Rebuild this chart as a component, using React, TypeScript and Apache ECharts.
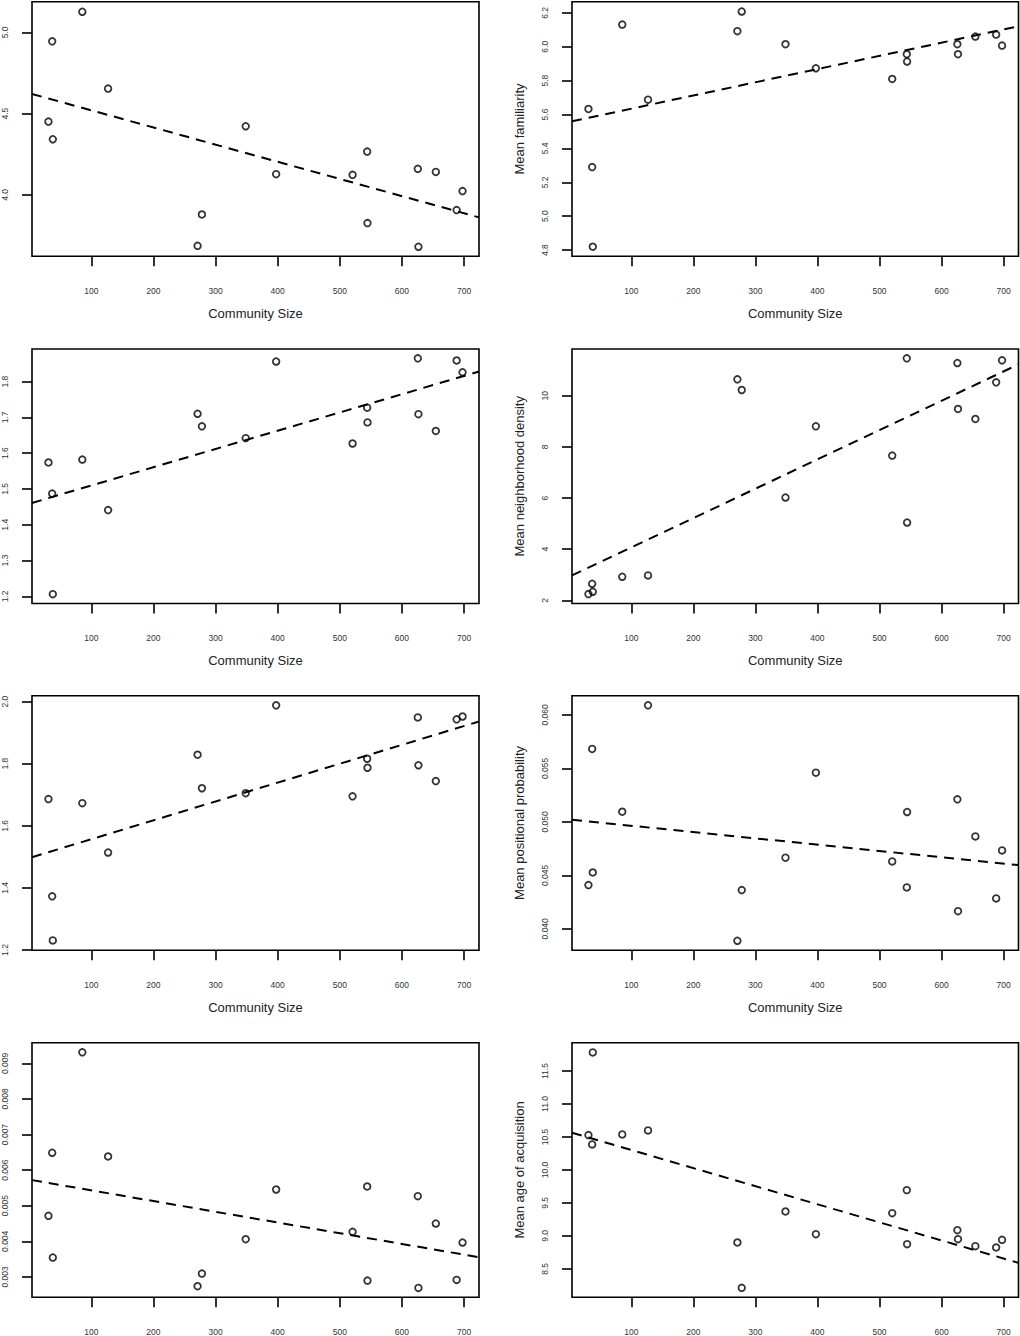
import React, { useEffect, useRef } from "react";
import * as echarts from "echarts";

// Shared x values (community size) for the 17 communities
const communitySize = [31, 37, 38, 85.5, 127, 271, 278, 348.5, 397.5, 520.5, 544, 544.5, 625.5, 626.5, 654.5, 688, 697.5];
const xTickLabels = ["100", "200", "300", "400", "500", "600", "700"];
const xRange = [4.5, 724];
const xTitle = "Community Size";

// Panel values (same order as communitySize)
const panel1Values = [4.451, 4.945, 4.342, 5.127, 4.654, 3.686, 3.879, 4.422, 4.127, 4.123, 4.266, 3.826, 4.160, 3.680, 4.141, 3.906, 4.023];
const panel2Values = [5.633, 5.290, 4.820, 6.131, 5.688, 6.092, 6.208, 6.015, 5.873, 5.810, 5.956, 5.913, 6.015, 5.956, 6.060, 6.072, 6.007];
const panel3Values = [1.574, 1.487, 1.206, 1.582, 1.441, 1.710, 1.675, 1.642, 1.856, 1.627, 1.727, 1.686, 1.865, 1.709, 1.662, 1.859, 1.826];
const panel4Values = [2.247, 2.650, 2.338, 2.924, 2.976, 10.637, 10.221, 6.020, 8.803, 7.659, 11.457, 5.044, 11.275, 9.480, 9.089, 10.520, 11.379];
const panel5Values = [1.686, 1.373, 1.231, 1.673, 1.514, 1.829, 1.721, 1.705, 1.988, 1.695, 1.816, 1.787, 1.949, 1.795, 1.744, 1.943, 1.952];
const panel6Values = [0.04409, 0.05682, 0.04527, 0.05095, 0.0609, 0.03888, 0.04362, 0.04665, 0.0546, 0.0463, 0.04387, 0.05092, 0.05211, 0.04165, 0.04864, 0.04284, 0.04733];
const panel7Values = [0.004716, 0.006487, 0.003544, 0.009309, 0.006384, 0.002738, 0.003094, 0.004059, 0.005456, 0.004266, 0.005541, 0.002897, 0.005269, 0.002691, 0.0045, 0.002916, 0.003966];
const panel8Values = [10.529, 10.387, 11.783, 10.539, 10.6, 8.9, 8.212, 9.37, 9.026, 9.345, 9.694, 8.874, 9.087, 8.95, 8.844, 8.824, 8.94];

// Fitted (dashed) line values at the x-range ends
const panel1Fit = [4.621, 3.861];
const panel2Fit = [5.56, 6.121];
const panel3Fit = [1.461, 1.828];
const panel4Fit = [2.976, 11.223];
const panel5Fit = [1.499, 1.936];
const panel6Fit = [0.0502, 0.04596];
const panel7Fit = [0.005719, 0.003553];
const panel8Fit = [10.564, 8.591];

// Y ranges
const panel1YRange = [3.622, 5.189];
const panel2YRange = [4.764, 6.266];
const panel3YRange = [1.18, 1.891];
const panel4YRange = [1.88, 11.823];
const panel5YRange = [1.1995, 2.019];
const panel6YRange = [0.038, 0.0618];
const panel7YRange = [0.00243, 0.00958];
const panel8YRange = [8.07, 11.93];

// Y tick labels
const panel1YTicks = ["4.0", "4.5", "5.0"];
const panel2YTicks = ["4.8", "5.0", "5.2", "5.4", "5.6", "5.8", "6.0", "6.2"];
const panel3YTicks = ["1.2", "1.3", "1.4", "1.5", "1.6", "1.7", "1.8"];
const panel4YTicks = ["2", "4", "6", "8", "10"];
const panel5YTicks = ["1.2", "1.4", "1.6", "1.8", "2.0"];
const panel6YTicks = ["0.040", "0.045", "0.050", "0.055", "0.060"];
const panel7YTicks = ["0.003", "0.004", "0.005", "0.006", "0.007", "0.008", "0.009"];
const panel8YTicks = ["8.5", "9.0", "9.5", "10.0", "10.5", "11.0", "11.5"];

// Y titles (left column titles are outside the picture)
const panelYTitles = ["", "Mean familiarity", "", "Mean neighborhood density", "", "Mean positional probability", "", "Mean age of acquisition"];

const FONT = "'Liberation Sans', Arial, Helvetica, sans-serif";

export default function App() {
  const ref = useRef<HTMLDivElement>(null);

  useEffect(() => {
    if (!ref.current) return;
    const chart = echarts.init(ref.current, undefined, { renderer: "svg", width: 1020, height: 1336 });

    const values = [panel1Values, panel2Values, panel3Values, panel4Values, panel5Values, panel6Values, panel7Values, panel8Values];
    const fits = [panel1Fit, panel2Fit, panel3Fit, panel4Fit, panel5Fit, panel6Fit, panel7Fit, panel8Fit];
    const yRanges = [panel1YRange, panel2YRange, panel3YRange, panel4YRange, panel5YRange, panel6YRange, panel7YRange, panel8YRange];
    const yTicks = [panel1YTicks, panel2YTicks, panel3YTicks, panel4YTicks, panel5YTicks, panel6YTicks, panel7YTicks, panel8YTicks];

    const rowTops = [1.7, 349, 695.7, 1042.7];
    const boxH = 254.5;
    const xTickVals = xTickLabels.map((s) => parseFloat(s));

    const grids: any[] = [];
    const xAxes: any[] = [];
    const yAxes: any[] = [];
    const series: any[] = [];

    for (let i = 0; i < 8; i++) {
      const col = i % 2;
      const row = Math.floor(i / 2);
      grids.push({
        left: col ? 572 : 32,
        top: rowTops[row],
        width: col ? 446.5 : 447,
        height: boxH,
        show: true,
        borderColor: "#000",
        borderWidth: 1.6,
        backgroundColor: "transparent",
        containLabel: false,
        outerBoundsMode: "none",
      });
      xAxes.push({
        type: "value",
        gridIndex: i,
        min: xRange[0],
        max: xRange[1],
        axisLine: { show: false },
        splitLine: { show: false },
        axisTick: {
          show: true,
          customValues: xTickVals,
          length: 10,
          inside: false,
          lineStyle: { color: "#000", width: 1.6 },
        },
        axisLabel: {
          customValues: xTickVals,
          fontSize: 8.5,
          color: "#333",
          margin: 30,
          fontFamily: FONT,
          formatter: (v: number) => String(Math.round(v)),
        },
        name: row < 3 ? xTitle : "",
        nameLocation: "middle",
        nameGap: 50.5,
        nameTextStyle: { fontSize: 13, color: "#222", fontFamily: FONT },
      });
      const tickStrs = yTicks[i];
      const dec = (tickStrs[0].split(".")[1] || "").length;
      const tickVals = tickStrs.map((s) => parseFloat(s));
      yAxes.push({
        type: "value",
        gridIndex: i,
        min: yRanges[i][0],
        max: yRanges[i][1],
        axisLine: { show: false },
        splitLine: { show: false },
        axisTick: {
          show: true,
          customValues: tickVals,
          length: 10,
          inside: false,
          lineStyle: { color: "#000", width: 1.6 },
        },
        axisLabel: {
          customValues: tickVals,
          rotate: 90,
          fontSize: 8.5,
          color: "#333",
          margin: 23,
          fontFamily: FONT,
          formatter: (v: number) => v.toFixed(dec),
        },
        name: panelYTitles[i],
        nameLocation: "middle",
        nameGap: 46.5,
        nameTextStyle: { fontSize: 13, color: "#222", fontFamily: FONT },
      });
      series.push({
        type: "line",
        xAxisIndex: i,
        yAxisIndex: i,
        data: [
          [xRange[0], fits[i][0]],
          [xRange[1], fits[i][1]],
        ],
        symbol: "none",
        showSymbol: false,
        lineStyle: { color: "#000", width: 2, type: [10, 7] },
        silent: true,
        z: 2,
      });
      series.push({
        type: "scatter",
        xAxisIndex: i,
        yAxisIndex: i,
        data: communitySize.map((x, k) => [x, values[i][k]]),
        symbol: "circle",
        symbolSize: 6.6,
        itemStyle: { color: "rgba(0,0,0,0)", borderColor: "#000", borderWidth: 1.8 },
        silent: true,
        z: 3,
      });
    }

    chart.setOption({
      animation: false,
      backgroundColor: "#fff",
      grid: grids,
      xAxis: xAxes,
      yAxis: yAxes,
      series,
    });

    return () => chart.dispose();
  }, []);

  return <div ref={ref} style={{ position: "absolute", left: 0, top: 0, width: 1020, height: 1336 }} />;
}
